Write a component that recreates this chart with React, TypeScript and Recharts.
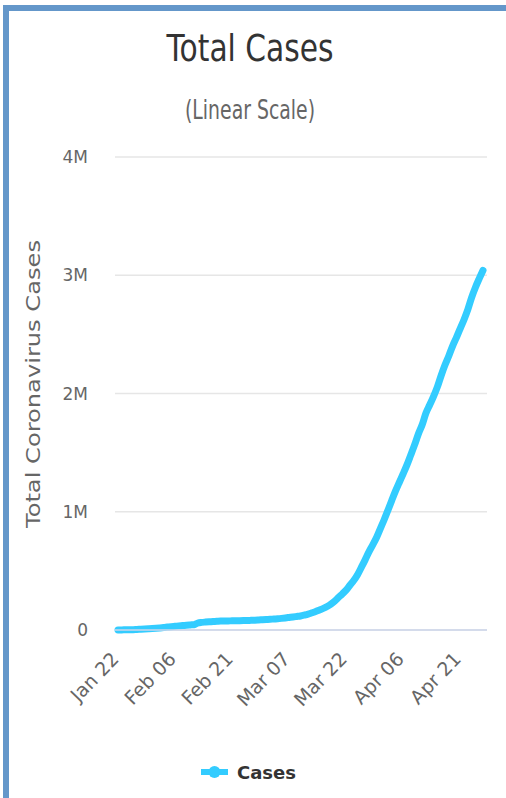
import React from "react";
import { LineChart, Line, XAxis, YAxis, CartesianGrid } from "recharts";

const dates = [
  "Jan 22", "Jan 23", "Jan 24", "Jan 25", "Jan 26", "Jan 27", "Jan 28", "Jan 29", "Jan 30", "Jan 31",
  "Feb 01", "Feb 02", "Feb 03", "Feb 04", "Feb 05", "Feb 06", "Feb 07", "Feb 08", "Feb 09", "Feb 10",
  "Feb 11", "Feb 12", "Feb 13", "Feb 14", "Feb 15", "Feb 16", "Feb 17", "Feb 18", "Feb 19", "Feb 20",
  "Feb 21", "Feb 22", "Feb 23", "Feb 24", "Feb 25", "Feb 26", "Feb 27", "Feb 28", "Feb 29",
  "Mar 01", "Mar 02", "Mar 03", "Mar 04", "Mar 05", "Mar 06", "Mar 07", "Mar 08", "Mar 09", "Mar 10",
  "Mar 11", "Mar 12", "Mar 13", "Mar 14", "Mar 15", "Mar 16", "Mar 17", "Mar 18", "Mar 19", "Mar 20",
  "Mar 21", "Mar 22", "Mar 23", "Mar 24", "Mar 25", "Mar 26", "Mar 27", "Mar 28", "Mar 29", "Mar 30",
  "Mar 31",
  "Apr 01", "Apr 02", "Apr 03", "Apr 04", "Apr 05", "Apr 06", "Apr 07", "Apr 08", "Apr 09", "Apr 10",
  "Apr 11", "Apr 12", "Apr 13", "Apr 14", "Apr 15", "Apr 16", "Apr 17", "Apr 18", "Apr 19", "Apr 20",
  "Apr 21", "Apr 22", "Apr 23", "Apr 24", "Apr 25", "Apr 26", "Apr 27",
];

const cases = [
  580, 845, 1317, 2015, 2800, 4581, 6058, 7813, 9823, 11950,
  14553, 17391, 20630, 24545, 28266, 31439, 34876, 37552, 40553, 43099,
  45134, 59287, 64438, 67100, 69197, 71329, 73332, 75184, 75700, 76677,
  77673, 78651, 79205, 80087, 80828, 81820, 83112, 84615, 86604,
  88585, 90443, 93016, 95314, 98425, 102050, 106099, 109991, 114381, 118948,
  126214, 134576, 145483, 156653, 169593, 182490, 198238, 218822, 244933, 275597,
  305036, 337489, 378287, 417966, 467593, 529591, 593291, 660706, 720140, 782389,
  857487,
  932605, 1013157, 1095917, 1176060, 1249754, 1321481, 1396476, 1480202, 1565278, 1657526,
  1735650, 1834721, 1904838, 1976191, 2056054, 2152437, 2240190, 2317759, 2401378, 2472259,
  2549294, 2624074, 2708885, 2811193, 2896746, 2971475, 3041764,
];

const xTicks = ["Jan 22", "Feb 06", "Feb 21", "Mar 07", "Mar 22", "Apr 06", "Apr 21"];
const yTicks = [0, 1000000, 2000000, 3000000, 4000000];

const data = dates.map((d, i) => ({ date: d, cases: cases[i] }));

const FONT = "'DejaVu Sans', sans-serif";
const LINE_COLOR = "#33ccff";
const BORDER = "#6497ca";

const formatY = (v: number) => (v === 0 ? "0" : `${v / 1000000}M`);

const DateTick = (props: any) => {
  const { x, y, payload } = props;
  const tx = x + 2;
  const ty = y + 30;
  return (
    <text
      x={tx}
      y={ty}
      transform={`rotate(-46, ${tx}, ${ty})`}
      textAnchor="end"
      fill="#666"
      fontSize={19}
      fontFamily={FONT}
    >
      {payload.value}
    </text>
  );
};

export default function App() {
  return (
    <div
      style={{
        position: "absolute",
        left: 0,
        top: 0,
        width: 506,
        height: 798,
        background: "#fff",
        overflow: "hidden",
      }}
    >
      <div style={{ position: "absolute", left: 3, top: 5, width: 503, height: 6, background: BORDER }} />
      <div style={{ position: "absolute", left: 3, top: 5, width: 6, height: 793, background: BORDER }} />

      <div style={{ position: "absolute", left: 0, top: 0 }}>
        <LineChart
          width={506}
          height={798}
          data={data}
          margin={{ top: 157, right: 19, left: 0, bottom: 0 }}
        >
          <CartesianGrid vertical={false} stroke="#e6e6e6" strokeWidth={1.5} />
          <XAxis
            dataKey="date"
            ticks={xTicks}
            interval={0}
            height={168}
            tick={<DateTick />}
            tickLine={false}
            tickSize={0}
            tickMargin={0}
            axisLine={{ stroke: "#ccd6eb", strokeWidth: 1.5 }}
            padding={{ left: 3, right: 4 }}
          />
          <YAxis
            width={115}
            domain={[0, 4000000]}
            ticks={yTicks}
            tickFormatter={formatY}
            axisLine={false}
            tickLine={false}
            tickSize={0}
            tickMargin={27}
            tick={{ fill: "#666", fontSize: 17, fontFamily: FONT }}
          />
          <Line
            type="monotone"
            dataKey="cases"
            name="Cases"
            stroke={LINE_COLOR}
            strokeWidth={7}
            strokeLinecap="round"
            dot={false}
            isAnimationActive={false}
          />
        </LineChart>
      </div>

      <svg
        width={506}
        height={798}
        style={{ position: "absolute", left: 0, top: 0, pointerEvents: "none" }}
      >
        <text
          x={250}
          y={61}
          textAnchor="middle"
          fontSize={38}
          fontFamily={FONT}
          fill="#333"
          textLength={167}
          lengthAdjust="spacingAndGlyphs"
        >
          Total Cases
        </text>
        <text
          x={250}
          y={119}
          textAnchor="middle"
          fontSize={26}
          fontFamily={FONT}
          fill="#666"
          textLength={130}
          lengthAdjust="spacingAndGlyphs"
        >
          (Linear Scale)
        </text>
        <text
          x={40}
          y={384}
          transform="rotate(-90, 40, 384)"
          textAnchor="middle"
          fontSize={20}
          fontFamily={FONT}
          fill="#666"
          textLength={288}
          lengthAdjust="spacingAndGlyphs"
        >
          Total Coronavirus Cases
        </text>
        <line x1={201} y1={772} x2={228} y2={772} stroke={LINE_COLOR} strokeWidth={6} />
        <circle cx={214.5} cy={772} r={6} fill={LINE_COLOR} />
        <text x={237} y={779} fontSize={18} fontWeight="bold" fontFamily={FONT} fill="#333">
          Cases
        </text>
      </svg>
    </div>
  );
}
